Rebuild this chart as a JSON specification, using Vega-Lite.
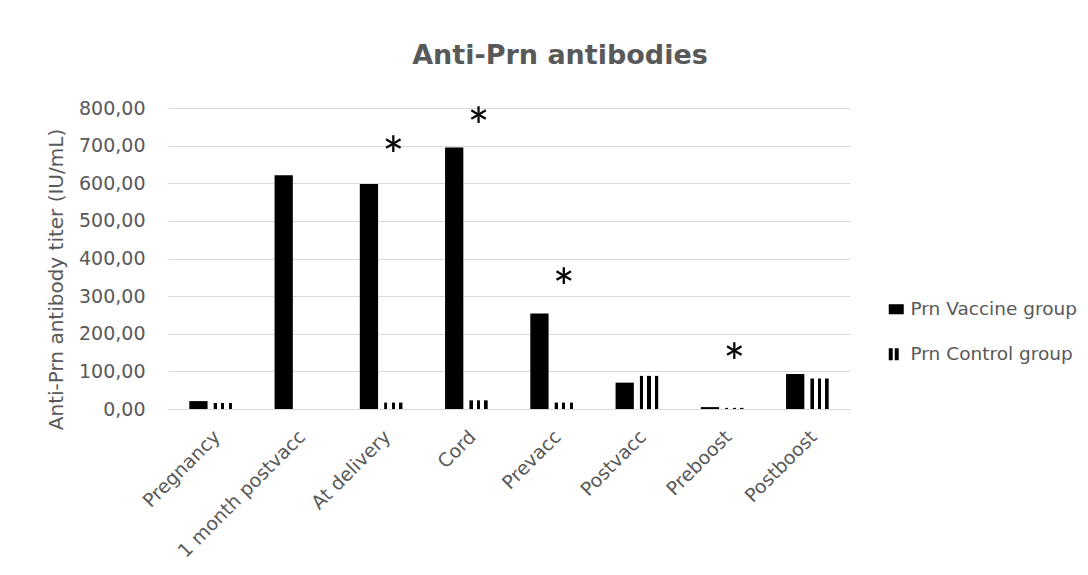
{
  "$schema": "https://vega.github.io/schema/vega-lite/v6.json",
  "autosize": "none",
  "width": 682,
  "height": 301,
  "padding": {"left": 168, "top": 108, "right": 238, "bottom": 166},
  "background": "white",
  "config": {"view": {"stroke": null}},
  "title": {
    "text": "Anti-Prn antibodies",
    "font": "DejaVu Sans",
    "fontSize": 27,
    "fontWeight": "bold",
    "color": "#595959",
    "anchor": "middle",
    "frame": "group",
    "dx": 51,
    "offset": 29
  },
  "data": {"name": "titers"},
  "datasets": {
    "titers": [
      {"time": "Pregnancy", "group": "Prn Vaccine group", "titer": 21},
      {"time": "Pregnancy", "group": "Prn Control group", "titer": 16},
      {"time": "1 month postvacc", "group": "Prn Vaccine group", "titer": 621},
      {"time": "1 month postvacc", "group": "Prn Control group", "titer": 0},
      {"time": "At delivery", "group": "Prn Vaccine group", "titer": 598},
      {"time": "At delivery", "group": "Prn Control group", "titer": 17},
      {"time": "Cord", "group": "Prn Vaccine group", "titer": 695},
      {"time": "Cord", "group": "Prn Control group", "titer": 23},
      {"time": "Prevacc", "group": "Prn Vaccine group", "titer": 254},
      {"time": "Prevacc", "group": "Prn Control group", "titer": 17},
      {"time": "Postvacc", "group": "Prn Vaccine group", "titer": 70},
      {"time": "Postvacc", "group": "Prn Control group", "titer": 88},
      {"time": "Preboost", "group": "Prn Vaccine group", "titer": 5},
      {"time": "Preboost", "group": "Prn Control group", "titer": 3},
      {"time": "Postboost", "group": "Prn Vaccine group", "titer": 93},
      {"time": "Postboost", "group": "Prn Control group", "titer": 81}
    ],
    "stars": [
      {"time": "At delivery", "group": "Prn Control group", "star": 695, "label": "*"},
      {"time": "Cord", "group": "Prn Control group", "star": 770, "label": "*"},
      {"time": "Prevacc", "group": "Prn Control group", "star": 344, "label": "*"},
      {"time": "Preboost", "group": "Prn Control group", "star": 144, "label": "*"}
    ]
  },
  "resolve": {"axis": {"y": "independent"}},
  "layer": [
    {
      "mark": {"type": "bar", "stroke": null},
      "encoding": {
        "x": {
          "field": "time", "type": "nominal", "sort": null,
          "scale": {"paddingInner": 0.5, "paddingOuter": 0.25},
          "axis": {
            "title": null, "labelAngle": -45, "ticks": false, "labelPadding": 18,
            "labelFont": "DejaVu Sans", "labelFontSize": 19, "labelColor": "#595959",
            "domainColor": "#d9d9d9", "grid": false
          }
        },
        "xOffset": {
          "field": "group", "type": "nominal", "sort": ["Prn Vaccine group", "Prn Control group"],
          "scale": {"paddingInner": 0.25, "paddingOuter": 0}
        },
        "y": {
          "field": "titer", "type": "quantitative",
          "scale": {"domain": [0, 800], "nice": false},
          "axis": {
            "title": "Anti-Prn antibody titer (IU/mL)",
            "titleFont": "DejaVu Sans", "titleFontSize": 20, "titleFontWeight": "normal", "titleColor": "#595959", "titlePadding": 12,
            "titleY": 171,
            "values": [0, 100, 200, 300, 400, 500, 600, 700, 800],
            "labelOverlap": false,
            "labelExpr": "replace(format(datum.value, '.2f'), '.', ',')",
            "labelFont": "DejaVu Sans", "labelFontSize": 19, "labelColor": "#595959", "labelPadding": 23,
            "ticks": false, "domain": false, "gridColor": "#d9d9d9", "gridWidth": 1
          }
        },
        "fill": {
          "field": "group", "type": "nominal", "sort": ["Prn Vaccine group", "Prn Control group"],
          "scale": {"range": ["black", "black"]},
          "condition": {
            "test": "datum.group === 'Prn Control group'",
            "value": {
              "gradient": "linear", "x1": 0, "x2": 1, "y1": 0, "y2": 0,
              "stops": [
                {"offset": 0, "color": "black"}, {"offset": 0.18, "color": "black"},
                {"offset": 0.18, "color": "white"}, {"offset": 0.41, "color": "white"},
                {"offset": 0.41, "color": "black"}, {"offset": 0.59, "color": "black"},
                {"offset": 0.59, "color": "white"}, {"offset": 0.82, "color": "white"},
                {"offset": 0.82, "color": "black"}, {"offset": 1, "color": "black"}
              ]
            }
          },
          "legend": null
        }
      }
    },
    {
      "mark": {"type": "point", "filled": true, "color": "black", "stroke": "transparent", "strokeWidth": 0, "opacity": 0, "size": 1},
      "encoding": {
        "x": {"field": "time", "type": "nominal", "sort": null},
        "xOffset": {"field": "group", "type": "nominal", "sort": ["Prn Vaccine group", "Prn Control group"]},
        "y": {"field": "titer", "type": "quantitative", "axis": null},
        "shape": {
          "field": "group", "type": "nominal", "sort": ["Prn Vaccine group", "Prn Control group"],
          "scale": {"range": ["M-1,-0.67H1V0.67H-1Z", "M-1,-0.8H-0.47V0.8H-1Z M-0.2,-0.8H0.33V0.8H-0.2Z"]},
          "legend": {
            "title": null, "orient": "none", "legendX": 719, "legendY": 192,
            "labelFont": "DejaVu Sans", "labelFontSize": 18.5, "labelColor": "#595959", "labelLimit": 0,
            "symbolSize": 225, "symbolStrokeWidth": 0, "symbolOpacity": 1, "symbolFillColor": "black",
            "rowPadding": 26, "labelOffset": 5
          }
        }
      }
    },
    {
      "data": {"name": "stars"},
      "mark": {"type": "text", "font": "Lato", "fontSize": 52, "color": "black", "baseline": "middle", "dy": 11},
      "encoding": {
        "x": {"field": "time", "type": "nominal", "sort": null},
        "xOffset": {"field": "group", "type": "nominal", "sort": ["Prn Vaccine group", "Prn Control group"]},
        "y": {"field": "star", "type": "quantitative", "axis": null},
        "text": {"field": "label"}
      }
    }
  ]
}
